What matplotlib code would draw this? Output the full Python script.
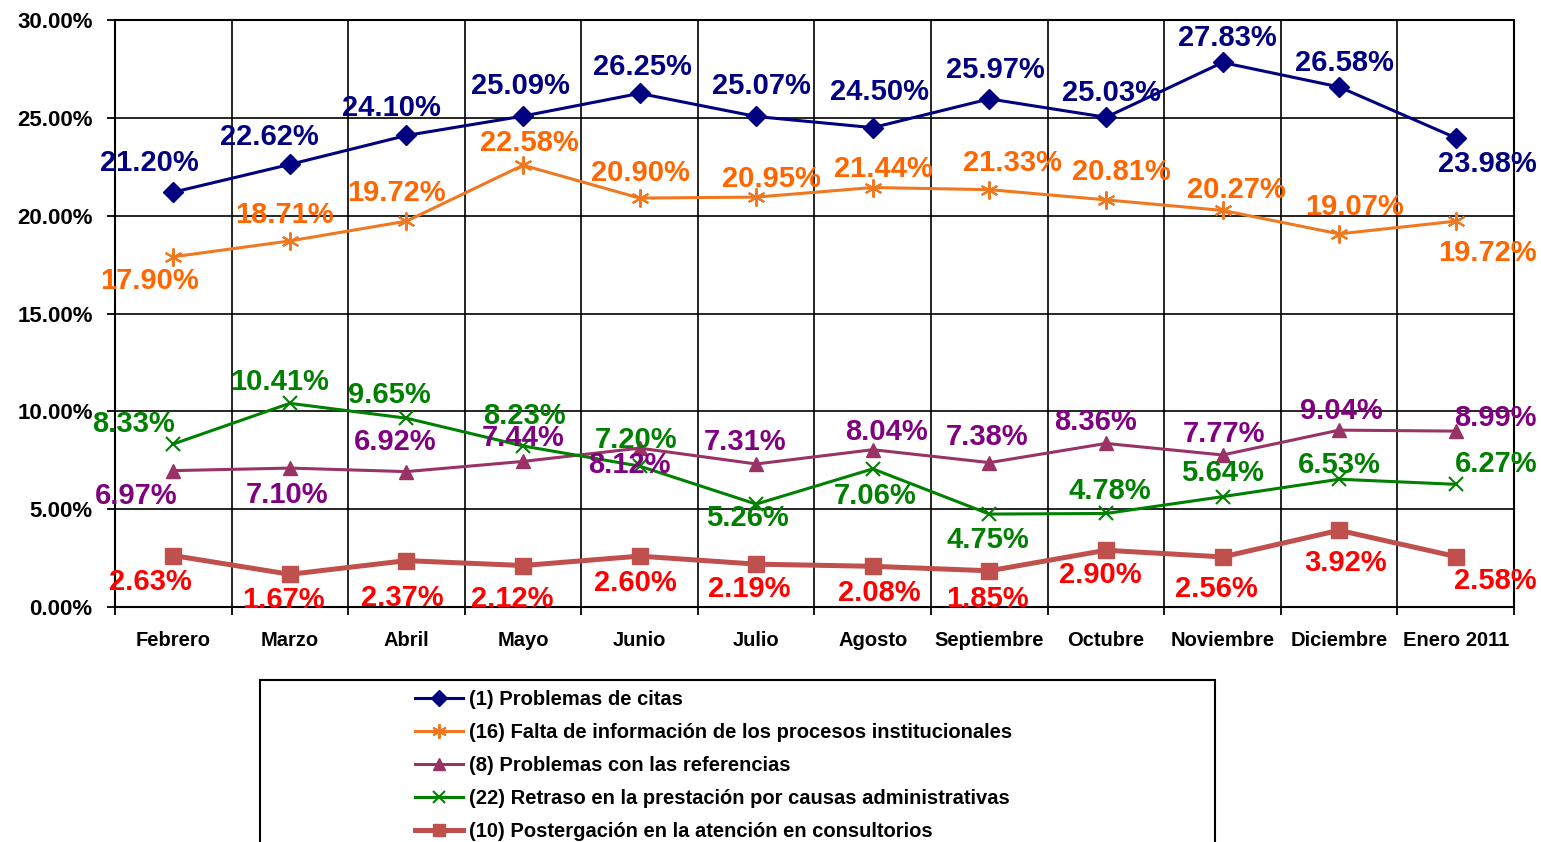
import matplotlib
matplotlib.use("Agg")
import matplotlib.pyplot as plt
from matplotlib.lines import Line2D
from matplotlib.patches import Rectangle
from matplotlib import font_manager

plt.rcParams['font.family'] = ['Liberation Sans', 'DejaVu Sans']

meses = ['Febrero', 'Marzo', 'Abril', 'Mayo', 'Junio', 'Julio', 'Agosto',
         'Septiembre', 'Octubre', 'Noviembre', 'Diciembre', 'Enero 2011']

citas = [21.20, 22.62, 24.10, 25.09, 26.25, 25.07, 24.50, 25.97, 25.03, 27.83, 26.58, 23.98]
falta_info = [17.90, 18.71, 19.72, 22.58, 20.90, 20.95, 21.44, 21.33, 20.81, 20.27, 19.07, 19.72]
referencias = [6.97, 7.10, 6.92, 7.44, 8.12, 7.31, 8.04, 7.38, 8.36, 7.77, 9.04, 8.99]
retraso = [8.33, 10.41, 9.65, 8.23, 7.20, 5.26, 7.06, 4.75, 4.78, 5.64, 6.53, 6.27]
postergacion = [2.63, 1.67, 2.37, 2.12, 2.60, 2.19, 2.08, 1.85, 2.90, 2.56, 3.92, 2.58]

y_ticks = [0, 5, 10, 15, 20, 25, 30]

# desplazamiento de etiquetas (px, hacia abajo positivo)
off_citas = [(-24, -29), (-20, -27), (-15, -27), (-3, -30), (3, -26), (5, -30),
             (7, -36), (6, -29), (6, -24), (5, -24), (5, -24), (32, 26)]
off_falta = [(-24, 24), (-5, -26), (-10, -28), (6, -22), (1, -25), (15, -18),
             (11, -19), (23, -27), (15, -28), (14, -20), (15, -27), (32, 32)]
off_ref = [(-37, 25), (-3, 27), (-11, -30), (0, -23), (-10, 17), (-11, -22),
           (14, -18), (-2, -26), (-10, -21), (1, -21), (2, -19), (40, -13)]
off_ret = [(-40, -20), (-10, -21), (-17, -23), (1, -30), (-4, -26), (-9, 14),
           (2, 27), (-2, 26), (4, -22), (0, -24), (0, -14), (40, -20)]
off_post = [(-23, 26), (-6, 26), (-4, 37), (-11, 33), (-4, 27), (-7, 25),
            (7, 27), (-2, 28), (-6, 25), (-6, 32), (6, 33), (40, 24)]

series = [
    ('(1) Problemas de citas', citas, '#000080', '#000080', 'D', 10, 2.2, off_citas),
    ('(16) Falta de información de los procesos institucionales', falta_info,
     '#F07820', '#FF6600', (6, 2, 0), 13, 2.2, off_falta),
    ('(8) Problemas con las referencias', referencias, '#993366', '#800080', '^', 10, 2.2, off_ref),
    ('(22) Retraso en la prestación por causas administrativas', retraso,
     '#008000', '#008000', 'x', 10, 2.2, off_ret),
    ('(10) Postergación en la atención en consultorios', postergacion,
     '#C0504D', '#FF0000', 's', 11, 3.6, off_post),
]

fig = plt.figure(figsize=(15.41, 8.42), dpi=100)
ax = fig.add_axes([0.0746, 0.2791, 0.9079, 0.6971])

x = list(range(len(meses)))
handles = []
for nombre, vals, lc, tc, mk, ms, lw, offs in series:
    mew = 1.5 if mk in ('x',) or isinstance(mk, tuple) else 1
    h, = ax.plot(x, vals, color=lc, marker=mk, markersize=ms, linewidth=lw,
                 markeredgewidth=mew, zorder=3, clip_on=False)
    handles.append(h)
    for i, v in enumerate(vals):
        dx, dy = offs[i]
        ax.annotate(f'{v:.2f}%', (i, v), xytext=(dx, -dy), textcoords='offset pixels',
                    ha='center', va='center', color=tc, fontsize=21,
                    fontweight='bold', zorder=4, annotation_clip=False)

ax.set_xlim(-0.5, len(meses) - 0.5)
ax.set_ylim(0, 30)
ax.set_yticks(y_ticks)
ax.set_yticklabels([f'{t:.2f}%' for t in y_ticks], fontsize=16, fontweight='bold')
ax.set_xticks(x)
ax.set_xticklabels(meses, fontsize=14.5, fontweight='bold')
ax.set_xticks([i - 0.5 for i in range(len(meses) + 1)], minor=True)
ax.tick_params(axis='x', which='major', length=0, pad=17)
ax.tick_params(axis='x', which='minor', length=6, width=1.3, direction='out')
ax.tick_params(axis='y', length=6, width=1.3, pad=10)
ax.grid(True, axis='y', color='black', linewidth=1.2)
ax.grid(True, axis='x', which='minor', color='black', linewidth=1.2)
ax.set_axisbelow(True)
for s in ax.spines.values():
    s.set_linewidth(1.5)
    s.set_color('black')

# leyenda
fig.add_artist(Rectangle((0.1687, -0.03), 0.6197, 0.2223, transform=fig.transFigure,
                         facecolor='white', edgecolor='black', linewidth=1.5))

leg_font = 'Liberation Sans Narrow'
try:
    font_manager.findfont(font_manager.FontProperties(family=leg_font), fallback_to_default=False)
    leg_size = 16
except Exception:
    leg_font = 'Liberation Sans'
    leg_size = 14.5

leg_handles = [Line2D([], [], color=h.get_color(), marker=h.get_marker(),
                      markersize=h.get_markersize() * 0.8, linewidth=h.get_linewidth(),
                      markeredgewidth=h.get_markeredgewidth()) for h in handles]
fig.legend(leg_handles, [s[0] for s in series], loc='upper left',
           bbox_to_anchor=(0.2693, 0.181), frameon=False, borderpad=0, borderaxespad=0,
           handlelength=2.4, handletextpad=0.3, labelspacing=0.70,
           prop={'family': leg_font, 'size': leg_size, 'weight': 'bold'})

fig.savefig('out.png', dpi=100)
